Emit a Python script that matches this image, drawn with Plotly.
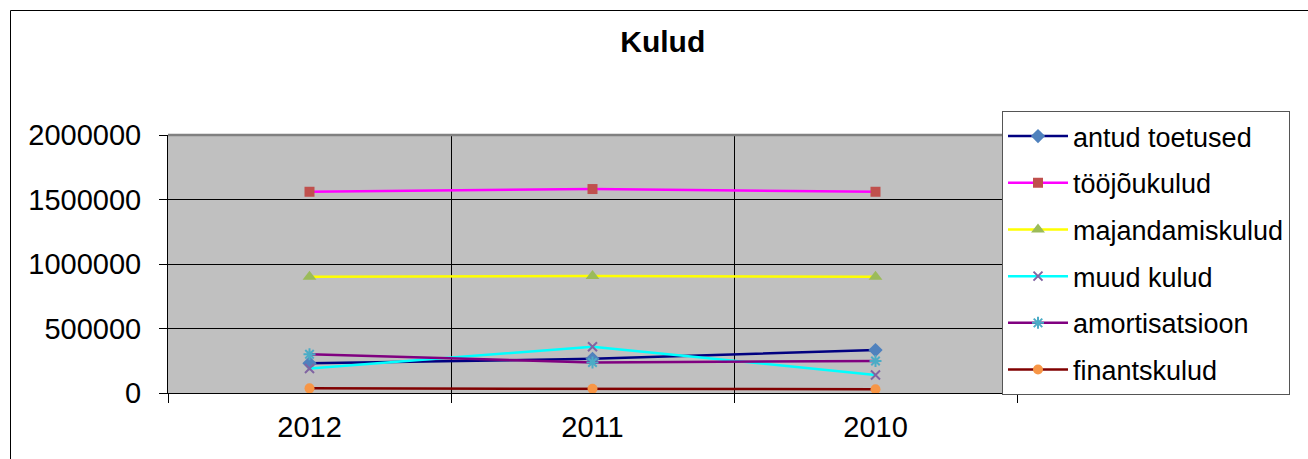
import plotly.graph_objects as go

years = ["2012", "2011", "2010"]
antud_toetused = [230000, 265000, 333000]
toojoukulud = [1560000, 1581000, 1560000]
majandamiskulud = [901000, 907000, 901000]
muud_kulud = [190000, 359000, 140000]
amortisatsioon = [300000, 237000, 248000]
finantskulud = [36000, 33000, 29000]

series = [
    ("antud toetused", antud_toetused, "#000080", "diamond", "#4F81BD", 11),
    ("tööjõukulud", toojoukulud, "#FF00FF", "square", "#C0504D", 10),
    ("majandamiskulud", majandamiskulud, "#FFFF00", "triangle-up", "#9BBB59", 12),
    ("muud kulud", muud_kulud, "#00FFFF", "x-thin-open", "#8064A2", 9),
    ("amortisatsioon", amortisatsioon, "#800080", "asterisk-open", "#4BACC6", 10),
    ("finantskulud", finantskulud, "#800000", "circle", "#F79646", 10),
]

W, H = 1308, 459
L, R, T, B = 168, 1017, 135, 393
FONT = "Liberation Sans, Arial, sans-serif"

fig = go.Figure()
for name, vals, lc, sym, mc, ms in series:
    marker = dict(symbol=sym, size=ms, color=mc)
    if sym.endswith("-open"):
        marker["line"] = dict(color=mc, width=2)
    else:
        marker["line"] = dict(width=0)
    fig.add_trace(go.Scatter(
        x=years, y=vals, name=name, mode="lines+markers",
        line=dict(color=lc, width=2.5), marker=marker,
        legendgroup=name,
    ))

def px_to_paper_x(px):
    return (px - L) / (R - L)

def px_to_paper_y(py):
    return (B - py) / (B - T)

shapes = [
    dict(type="line", xref="paper", yref="paper", x0=0, x1=1, y0=1, y1=1,
         line=dict(color="#808080", width=2.5), layer="above"),
    dict(type="line", xref="paper", yref="paper", x0=1, x1=1, y0=0, y1=1,
         line=dict(color="#808080", width=2.5), layer="above"),
    dict(type="rect", xref="paper", yref="paper",
         x0=px_to_paper_x(10.5), x1=px_to_paper_x(1330),
         y0=px_to_paper_y(480), y1=px_to_paper_y(10.5),
         line=dict(color="black", width=1), layer="below"),
]

fig.update_layout(
    width=W, height=H,
    margin=dict(l=L, r=W - R, t=T, b=H - B, autoexpand=False),
    paper_bgcolor="white",
    plot_bgcolor="#C0C0C0",
    font=dict(family=FONT, color="black", size=27),
    title=dict(text="Kulud", x=662.8 / W, xanchor="center", xref="container",
               y=1 - 41.7 / H, yanchor="middle",
               font=dict(family=FONT, size=30, weight="bold", color="black")),
    xaxis=dict(
        type="category", tickson="boundaries", range=[-0.5, 2.5],
        showgrid=True, gridcolor="black", gridwidth=1,
        showline=True, linecolor="black", linewidth=1,
        ticks="outside", ticklen=9, tickcolor="black",
        tickfont=dict(family=FONT, size=29), ticklabelstandoff=8,
        zeroline=False,
    ),
    yaxis=dict(
        range=[0, 2000000], dtick=500000, tickformat="d",
        showgrid=True, gridcolor="black", gridwidth=1,
        showline=True, linecolor="black", linewidth=1,
        ticks="outside", ticklen=8, tickcolor="black",
        tickfont=dict(family=FONT, size=29), ticklabelstandoff=12,
        zeroline=False,
    ),
    legend=dict(
        x=px_to_paper_x(1002), xanchor="left",
        y=px_to_paper_y(111), yanchor="top",
        bgcolor="white", bordercolor="#555555", borderwidth=1,
        font=dict(family=FONT, size=27),
        traceorder="grouped", tracegroupgap=8.6,
        itemwidth=60, maxheight=420,
    ),
    shapes=shapes,
    showlegend=True,
)

fig.write_html("out.html", config={"displayModeBar": False},
               post_script="document.body.style.margin='0';document.body.style.overflow='hidden';")
